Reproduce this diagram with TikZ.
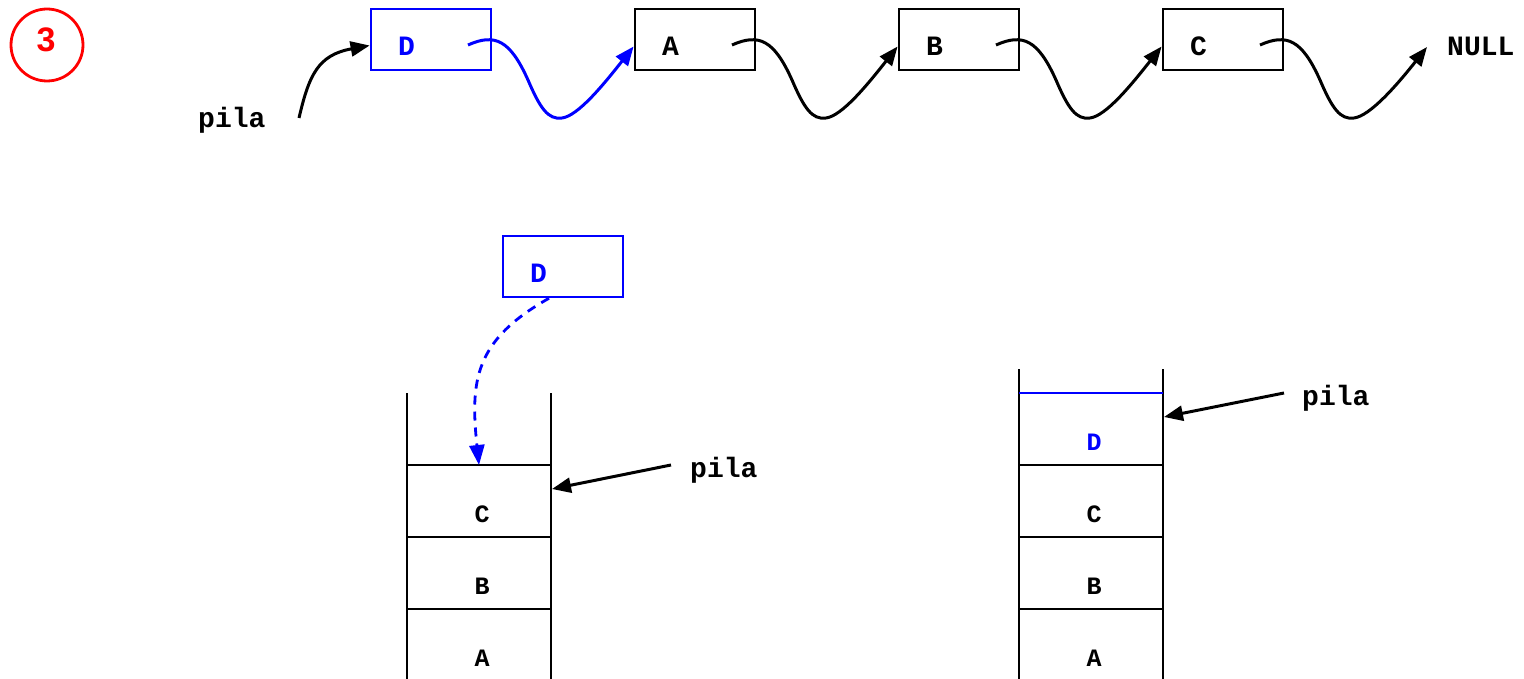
\documentclass[tikz,border=0pt]{standalone}
\usepackage{fontspec}
\usetikzlibrary{arrows.meta}
\newfontfamily\monob{Liberation Mono}[UprightFont={* Bold}]
\newfontfamily\sansb{Liberation Sans}[UprightFont={* Bold}]
\tikzset{
  lbox/.style={draw, line width=2.8pt, minimum width=120pt, minimum height=61pt, inner sep=0pt},
  lbl/.style={font=\monob\fontsize{28}{30}\selectfont, inner sep=0pt, anchor=base west},
  slbl/.style={font=\monob\fontsize{25}{27}\selectfont, inner sep=0pt, anchor=base},
  tipa/.style={-{Triangle[length=19pt,width=15pt]}},
  link/.style={line width=3pt, tipa},
  stk/.style={line width=2.3pt},
  parr/.style={line width=3pt, tipa},
}
\begin{document}
\begin{tikzpicture}[x=1pt,y=-1pt]
\useasboundingbox (0,0) rectangle (1524,679);
% step number
\node[draw=red, circle, line width=2.8pt, minimum size=72pt, inner sep=0pt] (num) at (47,45) {};
\node[text=red, font=\sansb\fontsize{34}{36}\selectfont, inner sep=0pt, anchor=base] (numt) at (46,52) {3};
% top list
\node[lbox, draw=blue] (nD) at (431,39.5) {};
\node[lbox] (nA) at (695,39.5) {};
\node[lbox] (nB) at (959,39.5) {};
\node[lbox] (nC) at (1223,39.5) {};
\node[lbl, text=blue] (tD) at (398,56) {D};
\node[lbl] (tA) at (662,56) {A};
\node[lbl] (tB) at (926,56) {B};
\node[lbl] (tC) at (1190,56) {C};
\node[lbl] (null) at (1447,56) {NULL};
\node[lbl] (pila1) at (198,128) {pila};
\coordinate (sD) at (468,45);
\coordinate (sA) at (732,45);
\coordinate (sB) at (996,45);
\coordinate (sC) at (1260,45);
\coordinate (eNull) at (1427,47);
\coordinate (p1s) at (299,118);
\draw[parr] (p1s) .. controls (309,75) and (318,55) .. ([yshift=-6pt]nD.west);
\foreach \s/\e/\c in {sD/nA/blue, sA/nB/black, sB/nC/black} {
  \draw[link, color=\c] (\s) .. controls +(27,-12) and +(-18,-40) .. +(60,35)
     .. controls +(12,28) and +(-14,2) .. +(94,73)
     .. controls +(16,-2) and +(-30,38) .. ([yshift=-7pt]\e.west);
}
\draw[link] (sC) .. controls +(27,-12) and +(-18,-40) .. +(60,35)
     .. controls +(12,28) and +(-14,2) .. +(94,73)
     .. controls +(16,-2) and +(-30,38) .. (eNull);
% middle D
\node[lbox, draw=blue, line width=2.5pt] (mD) at (563,266.5) {};
\node[lbl, text=blue] (tmD) at (530,283) {D};
% left stack
\draw[stk] (407,393) -- (407,679);
\draw[stk] (551,393) -- (551,679);
\coordinate (lTop) at (479,465);
\draw[stk] (407,465) -- (551,465);
\draw[stk] (407,537) -- (551,537);
\draw[stk] (407,609) -- (551,609);
\node[slbl] (lC) at (482,522) {C};
\node[slbl] (lB) at (482,594) {B};
\node[slbl] (lA) at (482,666) {A};
\draw[blue, line width=2.8pt, dash pattern=on 9pt off 7pt, -{Triangle[length=20pt,width=15pt]}]
  ([xshift=-14pt]mD.south) .. controls (475,340) and (470,380) .. (lTop);
\node[lbl] (pila2) at (690,477) {pila};
\coordinate (p2s) at (671,465);
\coordinate (p2e) at (552,489);
\draw[parr] (p2s) -- (p2e);
% right stack
\draw[stk] (1019,369) -- (1019,679);
\draw[stk] (1163,369) -- (1163,679);
\draw[blue, line width=1.9pt] (1019,393) -- (1163,393);
\draw[stk] (1019,465) -- (1163,465);
\draw[stk] (1019,537) -- (1163,537);
\draw[stk] (1019,609) -- (1163,609);
\node[slbl, text=blue] (rD) at (1094,450) {D};
\node[slbl] (rC) at (1094,522) {C};
\node[slbl] (rB) at (1094,594) {B};
\node[slbl] (rA) at (1094,666) {A};
\node[lbl] (pila3) at (1302,405) {pila};
\coordinate (p3s) at (1284,393);
\coordinate (p3e) at (1164,417);
\draw[parr] (p3s) -- (p3e);
\end{tikzpicture}
\end{document}
